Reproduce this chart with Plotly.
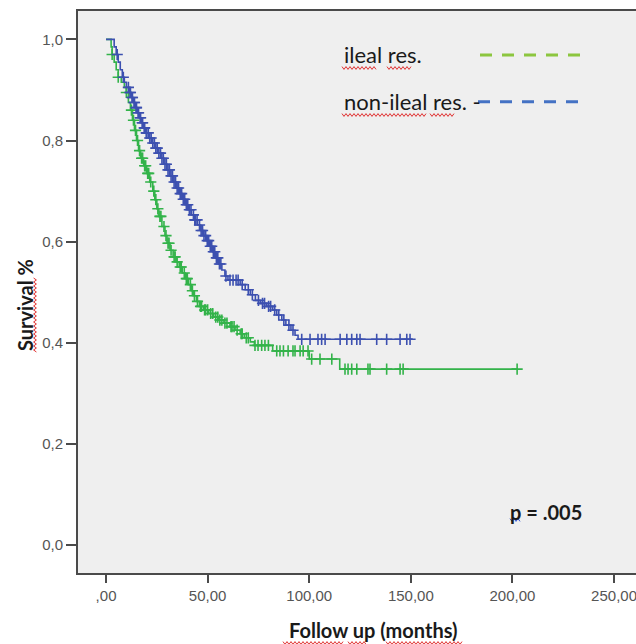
import numpy as np
import plotly.graph_objects as go

# ---------------- data ----------------
# ileal resection group: event times (months) and survival after each step
ileal_t = [0, 2.5, 3.0, 4.0, 5.0, 6.0, 7.5, 9.0, 10.0, 11.0, 12.0, 13.0, 14.0, 15.0,
           16.0, 17.0, 18.5, 20.0, 21.5, 23.0, 24.0, 25.0, 26.0, 27.5, 29.0, 30.0,
           31.5, 33.0, 34.5, 36.0, 37.5, 39.0, 40.5, 42.0, 43.0, 44.5, 46.0, 48.0,
           50.5, 53.0, 55.5, 58.0, 61.0, 63.5, 66.0, 68.0, 71.0, 73.0, 82.0, 100.0,
           115.0, 202.5]
ileal_s = [1.000, 0.985, 0.970, 0.955, 0.940, 0.925, 0.915, 0.905, 0.895, 0.875, 0.860,
           0.840, 0.820, 0.800, 0.780, 0.765, 0.750, 0.735, 0.718, 0.700, 0.683, 0.665,
           0.650, 0.630, 0.612, 0.597, 0.583, 0.570, 0.560, 0.550, 0.538, 0.527, 0.515,
           0.503, 0.493, 0.482, 0.472, 0.465, 0.458, 0.451, 0.445, 0.439, 0.432, 0.425,
           0.418, 0.410, 0.402, 0.395, 0.384, 0.368, 0.348, 0.348]
ileal_cens = [3, 6, 10, 12.5, 13.5, 14.5, 15.5, 16.5, 17.5, 18, 19, 19.5, 20.5, 21, 22,
              23.5, 24.5, 25.5, 26.5, 27, 28.5, 29.5, 30.5, 31, 32, 33.5, 34, 35, 36.5,
              37, 38.5, 39.5, 40, 41.5, 42.5, 43.5, 45, 46.5, 47, 48.5, 49, 50, 51.5,
              52.5, 54, 55, 56, 57, 58.5, 59.5, 61.5, 62, 63, 64.5, 66.5, 67, 69, 70,
              73.3, 74.8, 76.6, 78.2, 79.9, 84, 85.6, 87.3, 89.6, 92, 93, 95.5, 97, 99.4,
              101.2, 105.3, 111.1, 117.6, 119.1, 120.9, 123.4, 128.9, 129.9, 138.1,
              144.7, 146.2, 202.3]

# non-ileal resection group
non_t = [0, 4.0, 5.0, 6.0, 7.0, 8.0, 9.0, 10.0, 11.5, 12.5, 13.5, 14.5, 15.5, 16.5,
         17.5, 18.5, 19.5, 21.0, 22.5, 24.0, 25.5, 27.0, 28.5, 30.0, 31.5, 33.0, 34.5,
         36.0, 37.5, 39.0, 40.5, 42.0, 43.5, 45.0, 46.5, 48.0, 49.5, 51.0, 52.5, 54.0,
         55.5, 57.0, 58.5, 60.0, 66.0, 68.5, 71.0, 73.5, 76.0, 79.0, 82.0, 84.0, 86.5,
         88.5, 91.0, 93.0, 94.5, 151.0]
non_s = [1.000, 0.985, 0.970, 0.955, 0.940, 0.925, 0.915, 0.905, 0.895, 0.885, 0.875,
         0.865, 0.855, 0.845, 0.835, 0.825, 0.815, 0.805, 0.795, 0.785, 0.775, 0.765,
         0.753, 0.742, 0.730, 0.718, 0.706, 0.695, 0.684, 0.673, 0.663, 0.653, 0.643,
         0.633, 0.622, 0.612, 0.602, 0.591, 0.580, 0.568, 0.556, 0.544, 0.532, 0.524,
         0.515, 0.505, 0.495, 0.484, 0.478, 0.472, 0.465, 0.455, 0.445, 0.435, 0.425,
         0.415, 0.407, 0.407]
non_cens = [5.5, 8.5, 11, 11.8, 12, 12.8, 13, 13.8, 14, 14.8, 15, 15.8, 16, 16.8, 17,
            17.8, 18, 18.8, 19, 19.8, 20, 20.8, 21.5, 22.2, 23, 23.8, 24.5, 25.2, 26,
            26.8, 27.5, 28.2, 29, 29.7, 30.5, 31.2, 32, 32.7, 33.5, 34.2, 35, 35.7,
            36.5, 37.2, 38, 38.7, 39.5, 40.2, 41, 41.8, 43, 43.7, 44, 44.8, 46, 46.8,
            47.5, 48.2, 49, 49.8, 50.5, 51.3, 52, 52.8, 53.5, 54.3, 55, 55.8, 56.5, 59,
            61, 62.5, 64, 65, 67, 70, 72, 75, 77, 78, 80, 81, 83, 85, 87.5, 90, 92,
            96.3, 100.4, 104.3, 106.1, 107.8, 115.2, 118.5, 120.9, 123.4, 125, 133.2,
            138.1, 144.7, 148, 149.6]

x_ticks = [0, 50, 100, 150, 200, 250]
x_labels = [",00", "50,00", "100,00", "150,00", "200,00", "250,00"]
y_ticks = [0, 0.2, 0.4, 0.6, 0.8, 1.0]
y_labels = ["0,0", "0,2", "0,4", "0,6", "0,8", "1,0"]

legend_names = ["ileal res.", "non-ileal res. -"]
p_text = "p = .005"

# ---------------- styling ----------------
GREEN = "#33b34a"
BLUE = "#3c50b0"
LEG_GREEN = "#8cc63f"
LEG_BLUE = "#4472c4"
AXIS = "#4a4a4a"
TICKFONT = dict(family="Liberation Sans, Arial", size=15, color="#555555")

# figure is slightly wider than the window so the plot frame runs off the right edge
W, H = 642, 644
L, R, T, B = 78, W, 11, 573
X_RANGE = [-13.8, -13.8 + (R - L) / 2.032]


def px(x, y):
    return (x - L) / (R - L), (B - y) / (B - T)


def squiggle(x0, x1, y, vertical=False, amp=1.4, step=2.0):
    """spell-check style wavy underline, pixel positions -> paper path"""
    pts = []
    n = int(abs(x1 - x0) / step)
    for i in range(n + 1):
        a = x0 + i * step
        b = y + (amp if i % 2 else -amp)
        pts.append(px(b, a) if vertical else px(a, b))
    return "M " + " L ".join(f"{p[0]:.5f},{p[1]:.5f}" for p in pts)


def surv_at(times, surv, q):
    idx = np.searchsorted(np.asarray(times), np.asarray(q), side="right") - 1
    return np.asarray(surv)[idx]


fig = go.Figure()
for t, s, c, col in [(ileal_t, ileal_s, ileal_cens, GREEN), (non_t, non_s, non_cens, BLUE)]:
    fig.add_trace(go.Scatter(x=t, y=s, mode="lines", line=dict(color=col, width=1.6, shape="hv"),
                             showlegend=False, hoverinfo="skip"))
    fig.add_trace(go.Scatter(x=c, y=surv_at(t, s, c), mode="markers",
                             marker=dict(symbol="cross-thin", size=8,
                                         line=dict(color=col, width=1.6)),
                             showlegend=False, hoverinfo="skip"))

fig.update_layout(
    width=W, height=H,
    margin=dict(l=L, r=0, t=T, b=H - B),
    paper_bgcolor="white",
    plot_bgcolor="#efefef",
    showlegend=False,
)
fig.update_xaxes(range=X_RANGE, tickvals=x_ticks, ticktext=x_labels,
                 showgrid=False, zeroline=False, showline=True, linecolor=AXIS, linewidth=2,
                 mirror=True, ticks="outside", ticklen=8, tickwidth=2, tickcolor=AXIS,
                 tickfont=TICKFONT, ticklabeloverflow="allow")
fig.update_yaxes(range=[-0.055, 1.056], tickvals=y_ticks, ticktext=y_labels,
                 showgrid=False, zeroline=False, showline=True, linecolor=AXIS, linewidth=2,
                 ticks="outside", ticklen=10, tickwidth=2, tickcolor=AXIS,
                 tickfont=TICKFONT)

# axis titles
fx, _ = px(373, 0)
fig.add_annotation(text="<b>Follow up (months)</b>", xref="paper", yref="paper",
                   x=fx, y=px(0, 630)[1], xanchor="center", yanchor="middle", showarrow=False,
                   font=dict(family="Lato", size=20, color="#1a1a1a"))
fig.add_annotation(text="<b>Survival %</b>", xref="paper", yref="paper",
                   x=px(25, 0)[0], y=px(0, 305)[1], xanchor="center", yanchor="middle",
                   showarrow=False, textangle=-90,
                   font=dict(family="Lato", size=20, color="#1a1a1a"))

# legend (text + dashed sample line)
leg_ypx = [55, 101.7]
leg_cols = [LEG_GREEN, LEG_BLUE]
leg_x0px = [480, 478]
leg_x1px = [583, 580]
for name, ypx, col, x0, x1 in zip(legend_names, leg_ypx, leg_cols, leg_x0px, leg_x1px):
    yy = px(0, ypx)[1]
    fig.add_annotation(text=name, xref="paper", yref="paper", x=px(341.7, 0)[0], y=yy,
                       xanchor="left", yanchor="middle", showarrow=False,
                       font=dict(family="Lato", size=22, color="#1a1a1a"))
    fig.add_shape(type="line", xref="paper", yref="paper", x0=px(x0, 0)[0],
                  x1=px(x1, 0)[0], y0=yy, y1=yy,
                  line=dict(color=col, width=3, dash="12px,10px"))

fig.add_annotation(text="<b>" + p_text + "</b>", xref="paper", yref="paper",
                   x=px(508, 0)[0], y=px(0, 512)[1], xanchor="left", yanchor="middle",
                   showarrow=False, font=dict(family="Lato", size=20, color="#1a1a1a"))

# spell-check underlines as seen in the screenshot
red_marks = [(342, 376, 68, False), (387, 412, 68, False), (342, 426, 115, False),
             (430, 454, 115, False), (283, 343, 643, False), (348, 366, 643, False),
             (386, 463, 643, False), (278, 353, 35, True)]
for a, b, c, v in red_marks:
    fig.add_shape(type="path", xref="paper", yref="paper", path=squiggle(a, b, c, v),
                  line=dict(color="#e03030", width=1))
fig.add_shape(type="path", xref="paper", yref="paper", path=squiggle(510, 520, 520),
              line=dict(color="#3050d0", width=1))

fig.write_html("out.html", config={"displayModeBar": False},
               post_script="document.body.style.margin='0';"
                           "document.body.style.overflow='hidden';")
